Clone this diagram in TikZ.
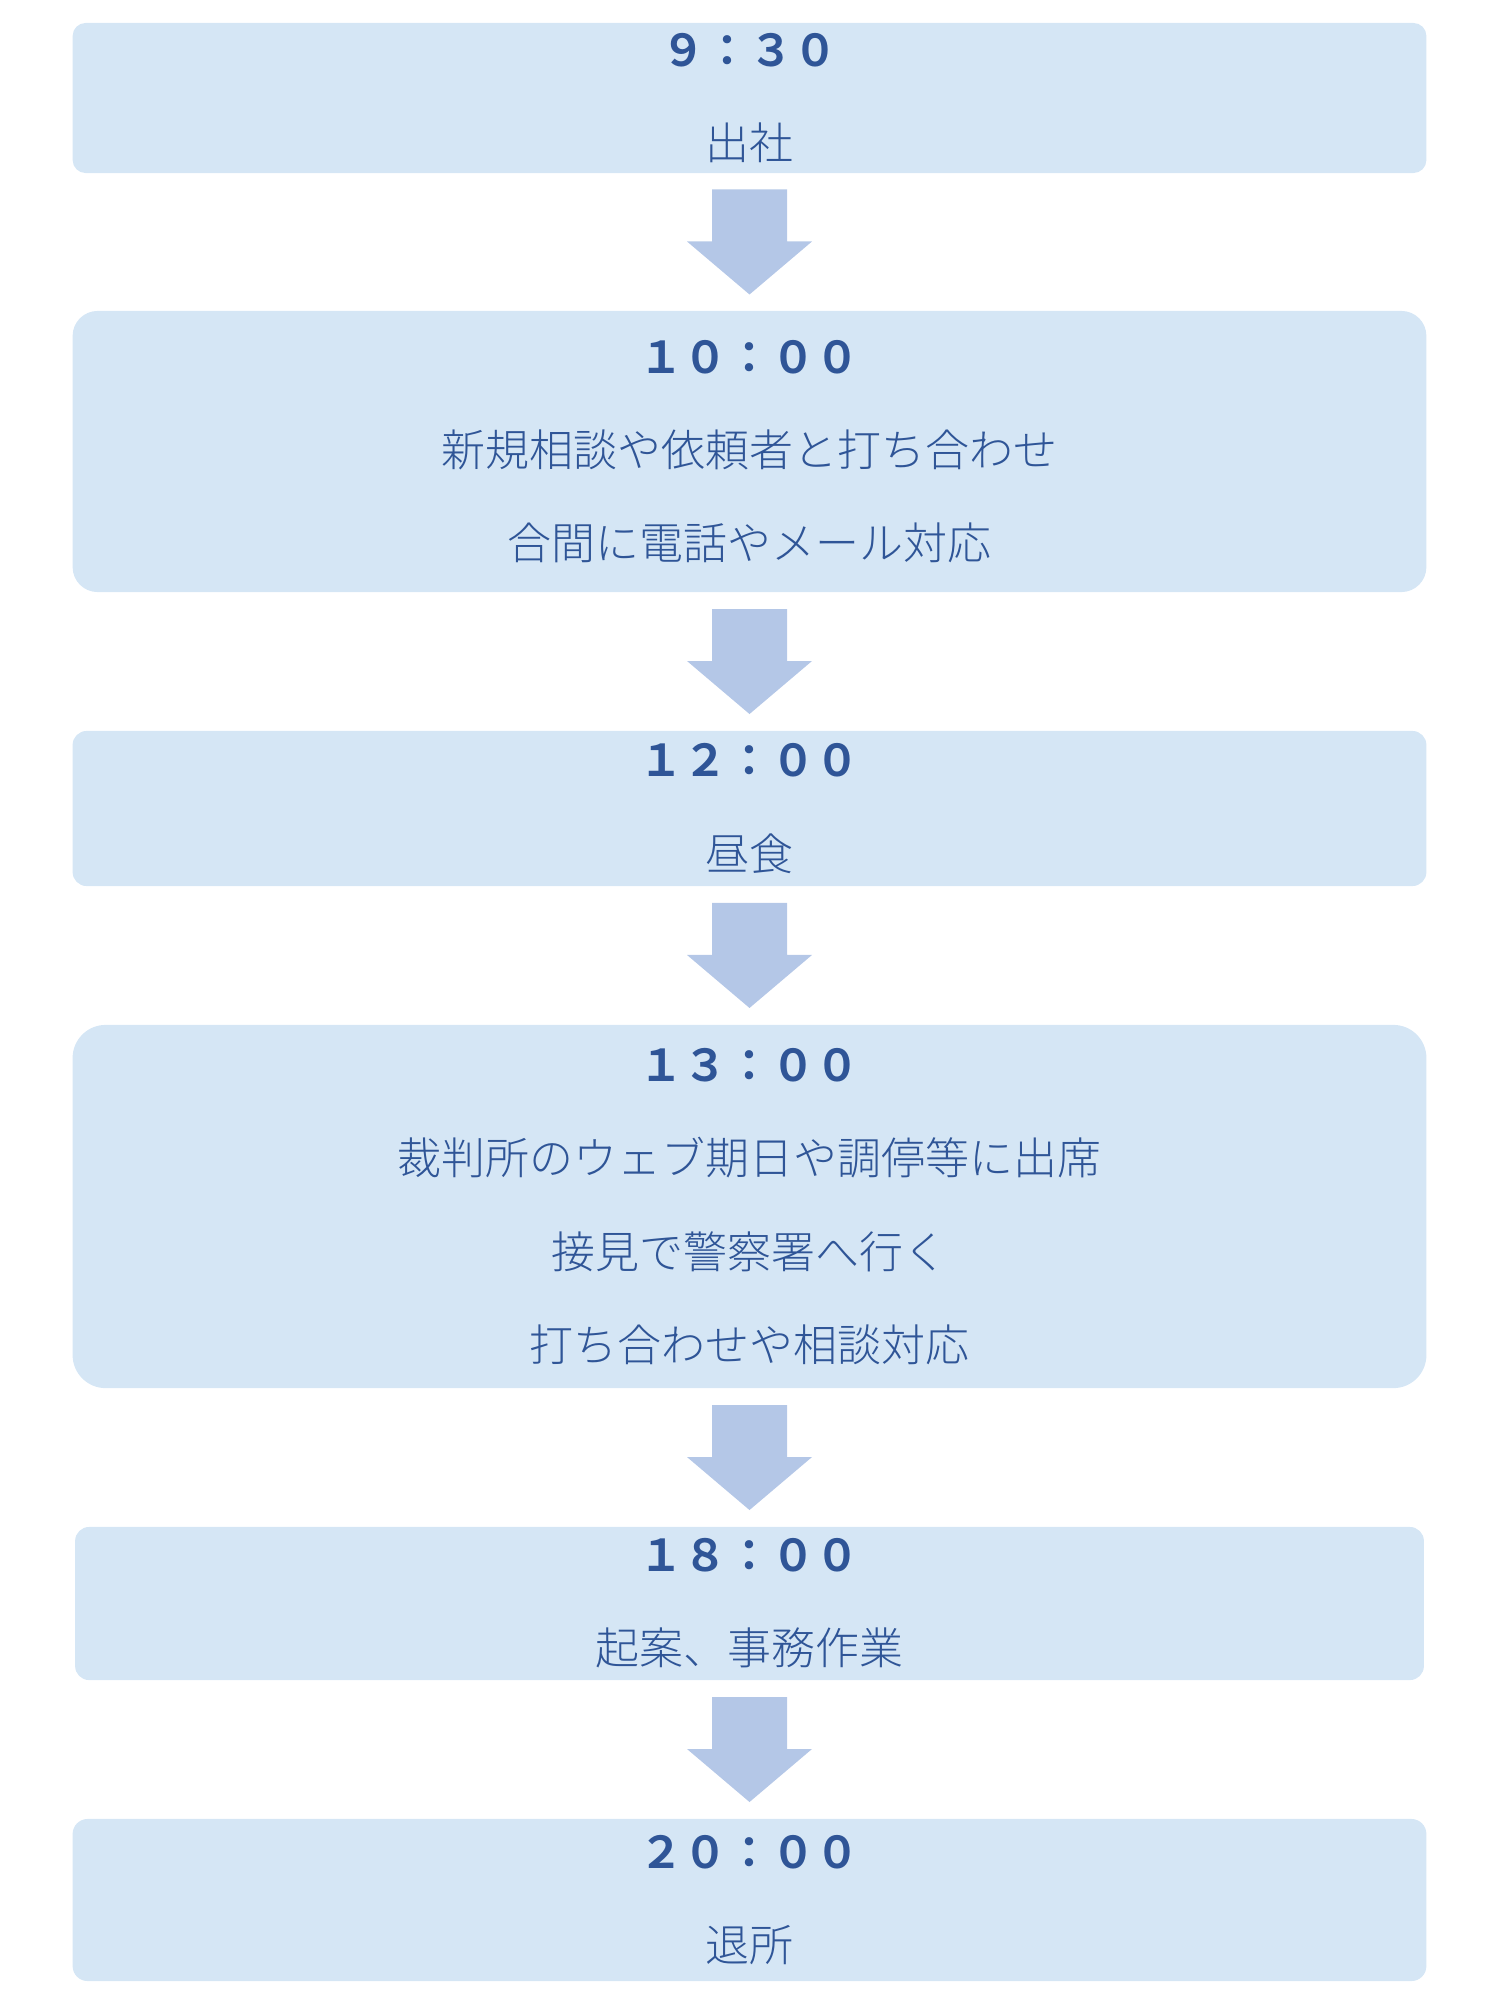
\documentclass[tikz,border=0pt]{standalone}
\usepackage{fontspec}
\setmainfont{Noto Sans CJK JP}[UprightFont={* Light}, BoldFont={* Bold}]
\usetikzlibrary{calc}
\definecolor{boxblue}{HTML}{D5E6F5}
\definecolor{arrowblue}{HTML}{B4C7E7}
\definecolor{txtblue}{HTML}{2F5597}

% block arrow between two boxes
\newcommand{\steparrow}[2]{%
  \coordinate (m#1) at ($(#1.south)!0.5!(#2.north)$);
  \fill[arrowblue] (m#1) ++(-37.5,-52.5) -- ++(75,0) -- ++(0,52) -- ++(25,0)
    -- ++(-62.5,53) -- ++(-62.5,-53) -- ++(25,0) -- cycle;}

\begin{document}
\begin{tikzpicture}[x=0.01cm, y=-0.01cm,
  timebox/.style={fill=boxblue, minimum width=13.53cm, inner sep=0pt,
    align=center, text=txtblue, font=\fontsize{12.5pt}{26.5pt}\selectfont}]

\useasboundingbox (0,0) rectangle (1500,2000);

% --- Schedule boxes ---
\node[timebox, minimum height=1.5cm, rounded corners=0.13cm] (b1) at (749.5,98)
  {{\bfseries ９：３０}\\出社};
\node[timebox, minimum height=2.81cm, rounded corners=0.25cm] (b2) at (749.5,451.5)
  {{\bfseries １０：００}\\新規相談や依頼者と打ち合わせ\\合間に電話やメール対応};
\node[timebox, minimum height=1.55cm, rounded corners=0.14cm] (b3) at (749.5,808.5)
  {{\bfseries １２：００}\\昼食};
\node[timebox, minimum height=3.63cm, rounded corners=0.33cm] (b4) at (749.5,1206.5)
  {{\bfseries １３：００}\\裁判所のウェブ期日や調停等に出席\\接見で警察署へ行く\\打ち合わせや相談対応};
\node[timebox, minimum height=1.53cm, minimum width=13.48cm, rounded corners=0.14cm] (b5) at (749.5,1603.5)
  {{\bfseries １８：００}\\起案、事務作業};
\node[timebox, minimum height=1.62cm, rounded corners=0.15cm] (b6) at (749.5,1900)
  {{\bfseries ２０：００}\\退所};

% --- Arrows ---
\steparrow{b1}{b2}
\steparrow{b2}{b3}
\steparrow{b3}{b4}
\steparrow{b4}{b5}
\steparrow{b5}{b6}

\end{tikzpicture}
\end{document}
